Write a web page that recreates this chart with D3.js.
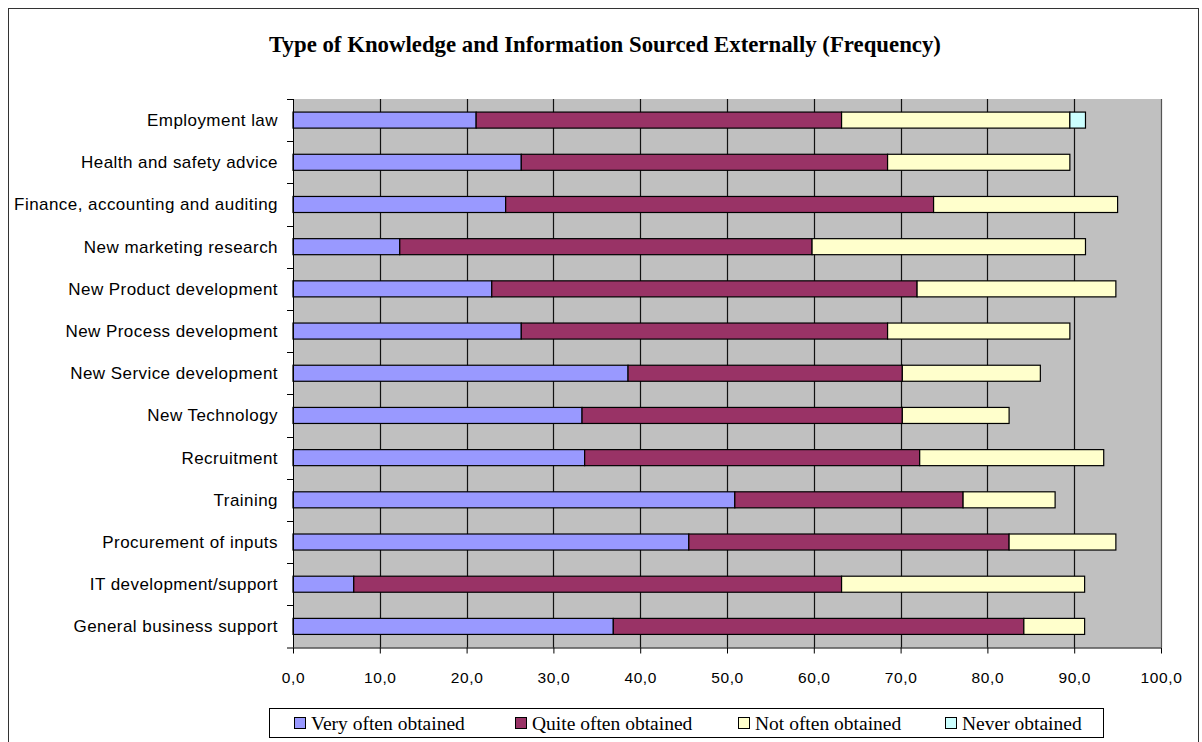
<!DOCTYPE html>
<html>
<head>
<meta charset="utf-8">
<script src="https://cdn.jsdelivr.net/npm/d3@7"></script>
<style>
  html, body { margin: 0; padding: 0; background: #fff; }
  svg { display: block; }
</style>
</head>
<body>
<svg id="chart" width="1202" height="742"></svg>
<script>
// Knowledge types, listed top to bottom
const categories = [
  "Employment law",
  "Health and safety advice",
  "Finance, accounting and auditing",
  "New marketing research",
  "New Product development",
  "New Process development",
  "New Service development",
  "New Technology",
  "Recruitment",
  "Training",
  "Procurement of inputs",
  "IT development/support",
  "General business support"
];

// Percentage of respondents per frequency level
const veryOften  = [21.1, 26.3, 24.5, 12.3, 22.9, 26.3, 38.6, 33.3, 33.6, 50.9, 45.6,  7.0, 36.9];
const quiteOften = [42.1, 42.2, 49.3, 47.5, 49.0, 42.2, 31.6, 36.9, 38.6, 26.3, 36.9, 56.2, 47.3];
const notOften   = [26.3, 21.0, 21.2, 31.5, 22.9, 21.0, 15.9, 12.3, 21.2, 10.6, 12.3, 28.0,  7.0];
const never      = [ 1.8,  0.0,  0.0,  0.0,  0.0,  0.0,  0.0,  0.0,  0.0,  0.0,  0.0,  0.0,  0.0];

const seriesNames = ["Very often obtained", "Quite often obtained", "Not often obtained", "Never obtained"];
const seriesColors = ["#9999FF", "#993366", "#FFFFCC", "#CCFFFF"];
const xTicks = [0, 10, 20, 30, 40, 50, 60, 70, 80, 90, 100];

const titleText = "Type of Knowledge and Information Sourced Externally (Frequency)";

const keys = ["very", "quite", "not", "never"];
const rows = categories.map((c, i) => ({
  cat: c, very: veryOften[i], quite: quiteOften[i], not: notOften[i], never: never[i]
}));
const stacked = d3.stack().keys(keys)(rows);

const svg = d3.select("#chart");

// chart frame
svg.append("rect")
  .attr("x", 8.5).attr("y", 8.5)
  .attr("width", 1190).attr("height", 760)
  .attr("fill", "#fff").attr("stroke", "#333").attr("stroke-width", 1);

// title
svg.append("text")
  .attr("x", 605).attr("y", 52)
  .attr("text-anchor", "middle")
  .attr("font-family", "'Liberation Serif', 'Times New Roman', serif")
  .attr("font-weight", "bold")
  .attr("font-size", 22.8)
  .attr("fill", "#000")
  .text(titleText);

const plot = { left: 293, right: 1161, top: 99, bottom: 647.5 };

const x = d3.scaleLinear().domain([0, 100]).range([plot.left, plot.right]);
const y = d3.scaleBand().domain(categories)
  .range([plot.top, plot.bottom])
  .paddingInner(0.62).paddingOuter(0.31);

// plot background
svg.append("rect")
  .attr("x", plot.left).attr("y", plot.top)
  .attr("width", plot.right - plot.left).attr("height", plot.bottom - plot.top)
  .attr("fill", "#C0C0C0");

// vertical gridlines
svg.append("g").selectAll("line")
  .data(xTicks.filter(d => d > 0))
  .join("line")
  .attr("x1", d => Math.round(x(d)) + 0.5).attr("x2", d => Math.round(x(d)) + 0.5)
  .attr("y1", plot.top).attr("y2", plot.bottom)
  .attr("stroke", d => d === 100 ? "#555" : "#111")
  .attr("stroke-width", 1.2);

// stacked bars
svg.append("g").selectAll("g")
  .data(stacked)
  .join("g")
  .attr("fill", (d, i) => seriesColors[i])
  .selectAll("rect")
  .data(d => d.filter(s => s[1] - s[0] > 0))
  .join("rect")
  .attr("x", d => x(d[0]))
  .attr("y", d => y(d.data.cat))
  .attr("width", d => x(d[1]) - x(d[0]))
  .attr("height", y.bandwidth())
  .attr("stroke", "#000")
  .attr("stroke-width", 1.2);

// category axis: line, boundary ticks and labels
const yAxis = svg.append("g");
yAxis.append("line")
  .attr("x1", plot.left + 0.5).attr("x2", plot.left + 0.5)
  .attr("y1", plot.top).attr("y2", plot.bottom)
  .attr("stroke", "#000");
const step = y.step();
const boundaries = d3.range(categories.length).map(i => plot.top + i * step);
yAxis.selectAll("line.tick")
  .data(boundaries)
  .join("line")
  .attr("class", "tick")
  .attr("x1", plot.left - 6).attr("x2", plot.left)
  .attr("y1", d => Math.round(d) + 0.5).attr("y2", d => Math.round(d) + 0.5)
  .attr("stroke", "#000");
yAxis.selectAll("text")
  .data(categories)
  .join("text")
  .attr("x", 278)
  .attr("y", d => y(d) + y.bandwidth() / 2)
  .attr("dy", "0.35em")
  .attr("text-anchor", "end")
  .attr("font-family", "'Liberation Sans', Arial, sans-serif")
  .attr("font-size", 17)
  .attr("letter-spacing", "0.45px")
  .attr("fill", "#000")
  .text(d => d);

// value axis
const xAxis = svg.append("g")
  .attr("transform", `translate(0,${plot.bottom})`)
  .call(d3.axisBottom(x)
    .tickValues(xTicks)
    .tickSize(6)
    .tickPadding(18)
    .tickFormat(d => d3.format(".1f")(d).replace(".", ",")));
xAxis.select(".domain").remove();
xAxis.append("line")
  .attr("x1", plot.left - 6).attr("x2", plot.right)
  .attr("y1", 0.5).attr("y2", 0.5)
  .attr("stroke", "#000");
xAxis.selectAll(".tick line").attr("stroke", "#000");
xAxis.selectAll(".tick text")
  .attr("font-family", "'Liberation Sans', Arial, sans-serif")
  .attr("font-size", 15.5)
  .attr("letter-spacing", "0.6px")
  .attr("fill", "#000");

// legend
const legend = svg.append("g");
legend.append("rect")
  .attr("x", 269.5).attr("y", 708.5)
  .attr("width", 834).attr("height", 29)
  .attr("fill", "#fff").attr("stroke", "#000");
const legendX = [294, 515, 738, 945];
const items = legend.selectAll("g.item")
  .data(seriesNames)
  .join("g")
  .attr("class", "item")
  .attr("transform", (d, i) => `translate(${legendX[i]},0)`);
items.append("rect")
  .attr("x", 0.5).attr("y", 717.5)
  .attr("width", 11).attr("height", 11)
  .attr("fill", (d, i) => seriesColors[i])
  .attr("stroke", "#000");
items.append("text")
  .attr("x", 17).attr("y", 723)
  .attr("dy", "0.35em")
  .attr("font-family", "'Liberation Serif', 'Times New Roman', serif")
  .attr("font-size", 19.5)
  .attr("fill", "#000")
  .text(d => d);
</script>
</body>
</html>
